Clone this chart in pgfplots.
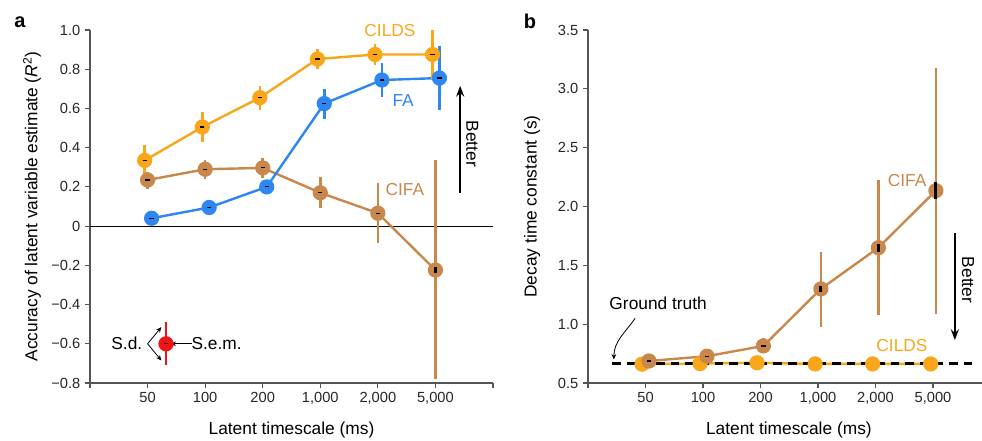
\documentclass[border=0pt]{standalone}
\usepackage{fontspec}
\setmainfont{Liberation Sans}
\setsansfont{Liberation Sans}
\usepackage{pgfplots}
\pgfplotsset{compat=1.18}
\usetikzlibrary{arrows.meta}

\definecolor{cilds}{HTML}{F9A61B}
\definecolor{fa}{HTML}{2E86F0}
\definecolor{cifa}{HTML}{C8884B}
\definecolor{semred}{HTML}{F01414}
\definecolor{axgray}{HTML}{555555}

% panel a: x = category position (offset per series), ep/em = s.d.
\pgfplotstableread{
x     y      ep     em
0.95  0.335  0.080  0.075
1.95  0.505  0.075  0.075
2.95  0.655  0.060  0.065
3.95  0.852  0.053  0.052
4.95  0.875  0.055  0.055
5.95  0.875  0.125  0.125
}\cildsA
\pgfplotstableread{
x     y      ep     em
1.07  0.040  0.005  0.005
2.07  0.095  0.005  0.005
3.07  0.200  0.030  0.035
4.07  0.625  0.075  0.080
5.07  0.745  0.085  0.085
6.07  0.755  0.165  0.165
}\faA
\pgfplotstableread{
x     y       ep     em
1.00  0.235   0.042  0.047
2.00  0.290   0.047  0.050
3.00  0.297   0.050  0.050
4.00  0.170   0.080  0.080
5.00  0.066   0.154  0.153
6.00  -0.224  0.560  0.556
}\cifaA

% panel b
\pgfplotstableread{
x     y
0.94  0.660
1.95  0.665
2.94  0.672
3.95  0.662
4.95  0.662
5.96  0.662
}\cildsB
\pgfplotstableread{
x     y      ep     em
1.06  0.687  0.020  0.020
2.07  0.728  0.020  0.020
3.05  0.815  0.070  0.060
4.05  1.300  0.315  0.320
5.05  1.650  0.575  0.572
6.05  2.135  1.040  1.045
}\cifaB

\pgfplotsset{
  panel/.style={
    scale only axis,
    anchor=south west,
    axis x line*=bottom,
    axis y line*=left,
    axis line style={-, axgray, line width=0.8pt},
    tick style={axgray, line width=0.8pt},
    tick align=outside,
    major tick length=3.75pt,
    xtick={0,...,7},
    xticklabels={,50,100,200,{1,000},{2,000},{5,000},},
    ticklabel style={font=\fontsize{11}{13}\selectfont, text=black!85},
    label style={font=\fontsize{13}{15}\selectfont},
    xlabel={Latent timescale (ms)},
    clip=false,
  },
  sd/.style={line width=1.8pt, mark=*, mark size=4.8pt,
    mark options={solid, draw=none},
    error bars/.cd, y dir=both, y explicit,
    error bar style={line width=2pt}, error mark=none},
  % tiny s.e.m. ticks inside the markers
  semdash/.style={black, only marks, mark=-, mark size=1.6pt,
    mark options={line width=0.9pt}, forget plot},
  % longer s.e.m. bars (mark size = half the bar length)
  sembar/.style={black, only marks, mark=|, mark size=#1,
    mark options={line width=2.2pt}, forget plot},
}

\begin{document}
\begin{tikzpicture}
\useasboundingbox (0,0) rectangle (736.5pt,330pt);
\node[font=\fontsize{15}{17}\selectfont\bfseries] at (15pt,313.5pt) {a};
\node[font=\fontsize{15}{17}\selectfont\bfseries] at (397.5pt,314.25pt) {b};

\begin{axis}[panel,
  at={(67.5pt,42.75pt)},
  width=302.25pt, height=264.75pt,
  xmin=0, xmax=7, ymin=-0.8, ymax=1.0,
  ytick={-0.8,-0.6,-0.4,-0.2,0,0.2,0.4,0.6,0.8,1.0},
  yticklabels={−0.8,−0.6,−0.4,−0.2,0,0.2,0.4,0.6,0.8,1.0},
  ylabel={Accuracy of latent variable estimate (\textit{R}\textsuperscript{2})},
  xlabel style={at={(axis description cs:0.5,-0.133)}, anchor=center},
  ylabel style={at={(axis description cs:-0.144,0.5)}, anchor=center},
]
\addplot[black, line width=0.6pt, forget plot] coordinates {(0,0) (7,0)};

\addplot[cifa, sd] table[x=x, y=y, y error plus=ep, y error minus=em] {\cifaA};
\addplot[semdash] coordinates {(1,0.235) (2,0.290) (3,0.297) (4,0.170) (5,0.066)};
\addplot[sembar=2.5pt] coordinates {(6.0,-0.224)};
\addplot[fa, sd] table[x=x, y=y, y error plus=ep, y error minus=em] {\faA};
\addplot[semdash] table[x=x, y=y] {\faA};
\addplot[cilds, sd] table[x=x, y=y, y error plus=ep, y error minus=em] {\cildsA};
\addplot[semdash] table[x=x, y=y] {\cildsA};

% key for s.d. / s.e.m.
\addplot[semred, sd] coordinates {(1.32,-0.6) +- (0,0.11)};
\addplot[semdash] coordinates {(1.32,-0.6)};
\node[font=\fontsize{13}{15}\selectfont] at (axis cs:0.64,-0.6) {S.d.};
\node[font=\fontsize{13}{15}\selectfont] at (axis cs:2.2,-0.6) {S.e.m.};
\draw[-{Stealth[length=4pt,width=3.5pt]}, line width=0.6pt] (axis cs:1.0,-0.6) -- (axis cs:1.24,-0.515);
\draw[-{Stealth[length=4pt,width=3.5pt]}, line width=0.6pt] (axis cs:1.0,-0.6) -- (axis cs:1.24,-0.685);
\draw[-{Stealth[length=4pt,width=3.5pt]}, line width=0.6pt] (axis cs:1.78,-0.6) -- (axis cs:1.40,-0.6);

\node[cilds, font=\fontsize{13}{15}\selectfont] at (axis cs:5.21,0.995) {CILDS};
\node[fa, font=\fontsize{13}{15}\selectfont] at (axis cs:5.44,0.64) {FA};
\node[cifa, font=\fontsize{13}{15}\selectfont] at (axis cs:5.47,0.185) {CIFA};
\draw[-{Stealth[length=8pt,width=6pt]}, line width=1.4pt] (axis cs:6.43,0.17) -- (axis cs:6.43,0.715);
\node[rotate=-90, font=\fontsize{13}{15}\selectfont] at (axis cs:6.64,0.42) {Better};
\end{axis}

\begin{axis}[panel,
  at={(441pt,42.75pt)},
  width=295.4pt, height=264.75pt,
  xmin=0, xmax=6.85, ymin=0.5, ymax=3.5,
  ytick={0.5,1.0,...,3.5},
  yticklabels={0.5,1.0,1.5,2.0,2.5,3.0,3.5},
  ylabel={Decay time constant (s)},
  xlabel style={at={(axis description cs:0.51,-0.133)}, anchor=center},
  ylabel style={at={(axis description cs:-0.142,0.5)}, anchor=center},
]
\addplot[cilds, line width=1.8pt, mark=*, mark size=4.8pt, mark options={draw=none}] table[x=x, y=y] {\cildsB};
\addplot[black, line width=2pt, dash pattern=on 6.5pt off 4.5pt, forget plot] coordinates {(0.42,0.663) (6.68,0.663)};
\addplot[cifa, sd] table[x=x, y=y, y error plus=ep, y error minus=em] {\cifaB};
\addplot[semdash] coordinates {(1.06,0.687) (2.07,0.728) (3.05,0.815)};
\addplot[sembar=2.5pt] coordinates {(4.05,1.300)};
\addplot[sembar=3.1pt] coordinates {(5.05,1.650)};
\addplot[sembar=6.2pt] coordinates {(6.05,2.135)};

\node[font=\fontsize{13}{15}\selectfont] at (axis cs:1.22,1.18) {Ground truth};
\draw[-{Stealth[length=4pt,width=3.5pt]}, line width=0.6pt] (axis cs:0.82,1.05) to[out=235, in=90] (axis cs:0.45,0.70);
\node[cifa, font=\fontsize{13}{15}\selectfont] at (axis cs:5.55,2.22) {CIFA};
\node[cilds, font=\fontsize{13}{15}\selectfont] at (axis cs:5.46,0.815) {CILDS};
\draw[-{Stealth[length=8pt,width=6pt]}, line width=1.4pt] (axis cs:6.38,1.775) -- (axis cs:6.38,0.865);
\node[rotate=-90, font=\fontsize{13}{15}\selectfont] at (axis cs:6.61,1.375) {Better};
\end{axis}
\end{tikzpicture}
\end{document}
